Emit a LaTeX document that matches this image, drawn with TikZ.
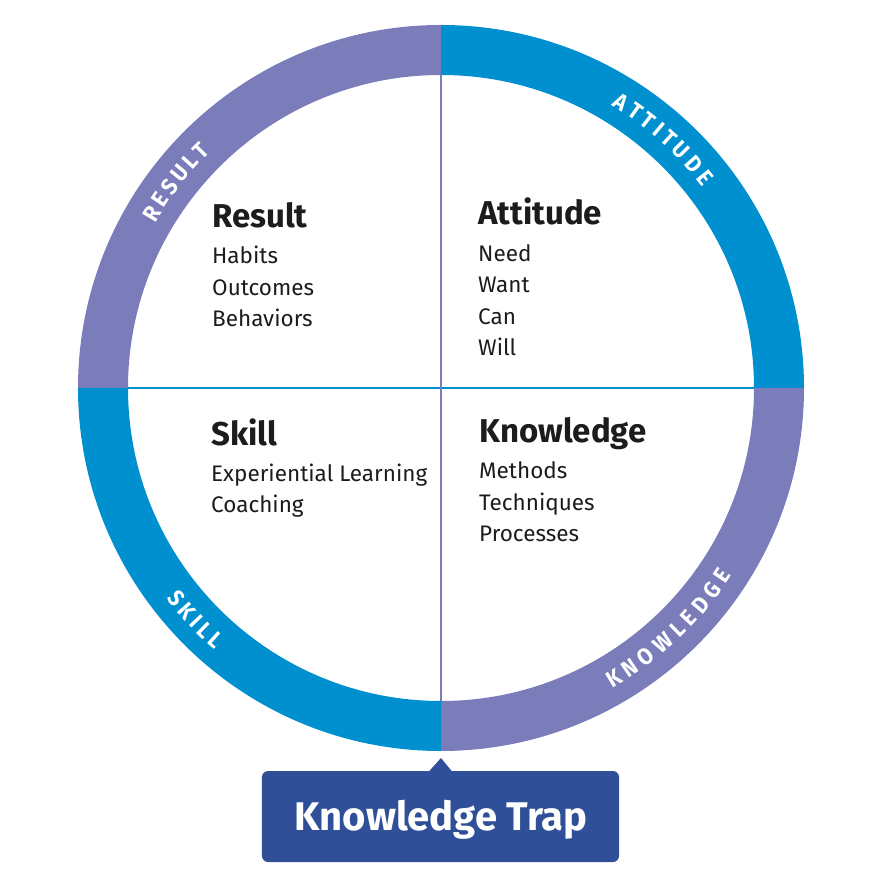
\documentclass[tikz,border=0pt]{standalone}
\usepackage{fontspec}
\setmainfont{Fira Sans}
\definecolor{purp}{RGB}{123,125,187}
\definecolor{blu}{RGB}{0,144,208}
\definecolor{navy}{RGB}{47,80,152}
\definecolor{txt}{RGB}{28,28,28}
\begin{document}
\begin{tikzpicture}[x=1pt,y=1pt,
  head/.style={anchor=base west, inner sep=0pt, font=\bfseries\fontsize{33}{33}\selectfont, text=txt},
  item/.style={anchor=base west, inner sep=0pt, font=\fontsize{22.5}{22.5}\selectfont, text=txt},
  ringletter/.style={anchor=center, inner sep=0pt, text=white, font=\bfseries\fontsize{23}{23}\selectfont}]
\useasboundingbox (-441,-494) rectangle (447,388);
% ring segments
\fill[purp] (180:363) arc[start angle=180,end angle=90,radius=363] -- (90:313) arc[start angle=90,end angle=180,radius=313] -- cycle;
\fill[blu] (90:363) arc[start angle=90,end angle=0,radius=363] -- (0:313) arc[start angle=0,end angle=90,radius=313] -- cycle;
\fill[purp] (0:363) arc[start angle=0,end angle=-90,radius=363] -- (-90:313) arc[start angle=-90,end angle=0,radius=313] -- cycle;
\fill[blu] (-90:363) arc[start angle=-90,end angle=-180,radius=363] -- (180:313) arc[start angle=180,end angle=270,radius=313] -- cycle;
% dividers
\coordinate (L) at (180:313); \coordinate (R) at (0:313);
\coordinate (T) at (90:313); \coordinate (B) at (-90:313);
\draw[blu, line width=1.6pt] (L) -- (R);
\draw[purp, line width=1.6pt] (T) -- (B);
% ring labels (letters placed along the ring)
\foreach \a/\ch [count=\i] in {148.91/R,146.14/E,143.40/S,140.65/U,137.87/L,135.34/T}
  \node[ringletter, rotate=\a-90, xscale=0.92] (res\i) at (\a:338) {\ch};
\foreach \a/\ch [count=\i] in {57.75/A,54.91/T,52.22/T,49.93/I,47.64/T,44.69/U,41.49/D,38.52/E}
  \node[ringletter, rotate=\a-90, xscale=0.92] (att\i) at (\a:338) {\ch};
\foreach \a/\ch [count=\i] in {218.48/S,221.27/K,223.65/I,225.77/L,228.21/L}
  \node[ringletter, rotate=\a+90, xscale=0.92] (skl\i) at (\a:338) {\ch};
\foreach \a/\ch [count=\i] in {-59.24/K,-56.03/N,-52.67/O,-48.93/W,-45.59/L,-42.91/E,-39.89/D,-36.68/G,-33.70/E}
  \node[ringletter, rotate=\a+90, xscale=0.92] (kno\i) at (\a:338) {\ch};
% quadrant texts
\node[head] (hres) at (-229,160) {Result};
\node[item] (r1) at (-229,124) {Habits};
\node[item] (r2) at (-229,92) {Outcomes};
\node[item] (r3) at (-229,61) {Behaviors};
\node[head] (hatt) at (37,163) {Attitude};
\node[item] (a1) at (37,126) {Need};
\node[item] (a2) at (37,95) {Want};
\node[item] (a3) at (37,63) {Can};
\node[item] (a4) at (37,32) {Will};
\node[head] (hskl) at (-230,-58) {Skill};
\node[item] (s1) at (-230,-94) {Experiential Learning};
\node[item] (s2) at (-230,-125) {Coaching};
\node[head] (hkno) at (38,-55) {Knowledge};
\node[item] (k1) at (38,-91) {Methods};
\node[item] (k2) at (38,-123) {Techniques};
\node[item] (k3) at (38,-154) {Processes};
% callout
\node[fill=navy, rounded corners=6pt, minimum width=357pt, minimum height=91pt, inner sep=0pt] (trap) at (-0.5,-428.5) {};
\coordinate (tip) at (0,-370);
\fill[navy] ([xshift=-11pt]trap.north) -- (tip) -- ([xshift=11pt]trap.north) -- cycle;
\node[anchor=base, inner sep=0pt, text=white, font=\bfseries\fontsize{40}{40}\selectfont] (traptxt) at (0,-442) {Knowledge Trap};
\end{tikzpicture}
\end{document}
